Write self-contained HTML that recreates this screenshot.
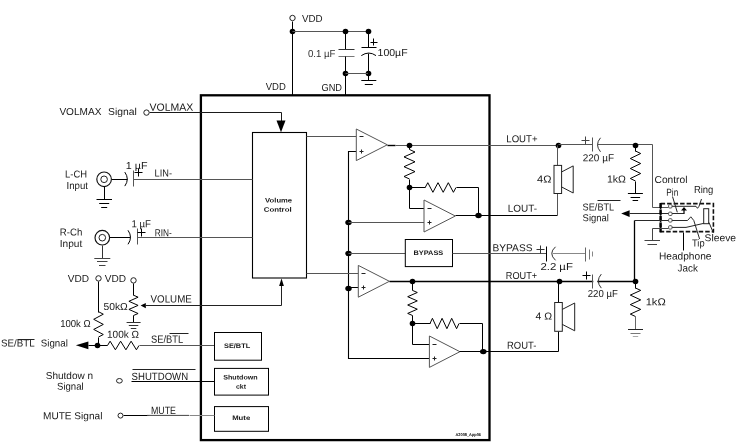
<!DOCTYPE html>
<html><head><meta charset="utf-8"><title>Audio amplifier application circuit</title>
<style>
html,body{margin:0;padding:0;background:#fff;}
body{width:737px;height:447px;overflow:hidden;}
svg{display:block;font-family:"Liberation Sans",sans-serif;will-change:transform;text-rendering:geometricPrecision;}
</style></head>
<body>
<svg width="737" height="447" viewBox="0 0 737 447">
<rect width="737" height="447" fill="#fff"/>
<rect x="200.9" y="95.3" width="288.6" height="344.8" fill="none" stroke="#000" stroke-width="2.3"/>
<rect x="252.5" y="132.5" width="54" height="145.5" fill="none" stroke="#000" stroke-width="1.1"/>
<text x="265.1" y="202.6" font-size="6.6" fill="#181818" textLength="27" lengthAdjust="spacingAndGlyphs" font-weight="bold"  transform="rotate(0.05 265.1 202.6)">Volume</text>
<text x="263.8" y="211.8" font-size="6.6" fill="#181818" textLength="27.8" lengthAdjust="spacingAndGlyphs" font-weight="bold"  transform="rotate(0.05 263.8 211.8)">Control</text>
<path d="M292.5,21.5 L292.5,95.5" stroke="#000" stroke-width="1" fill="none" />
<circle cx="292.5" cy="18.0" r="2.7" fill="#fff" stroke="#222" stroke-width="1.0"/>
<circle cx="292.5" cy="31.5" r="2.8" fill="#000"/>
<path d="M292.5,31.5 L368.5,31.5" stroke="#555" stroke-width="1" fill="none" />
<circle cx="345.5" cy="31.5" r="2.8" fill="#000"/>
<circle cx="368.5" cy="31.5" r="2.8" fill="#000"/>
<path d="M345.5,31.5 L345.5,49.5" stroke="#000" stroke-width="1" fill="none" />
<path d="M338.5,49.5 L354.5,49.5" stroke="#333" stroke-width="1" fill="none" />
<path d="M338.5,56.5 L354.5,56.5" stroke="#777" stroke-width="1" fill="none" />
<path d="M345.5,56.5 L345.5,95.5" stroke="#000" stroke-width="1" fill="none" />
<circle cx="345.5" cy="73.5" r="2.8" fill="#000"/>
<circle cx="368.5" cy="73.5" r="2.8" fill="#000"/>
<path d="M345.5,73.5 L368.5,73.5" stroke="#555" stroke-width="1" fill="none" />
<path d="M368.5,31.5 L368.5,47.5" stroke="#000" stroke-width="1" fill="none" />
<path d="M361.5,47.5 L376.5,47.5" stroke="#000" stroke-width="1" fill="none" />
<path d="M361.3,55.6 Q368.8,50.5 376,55.6" stroke="#000" stroke-width="1" fill="none"/>
<path d="M368.5,53.5 L368.5,80.5" stroke="#000" stroke-width="1" fill="none" />
<path d="M361.3,80.5 L376.3,80.5" stroke="#000" stroke-width="1" fill="none" />
<path d="M364.8,84.5 L372.8,84.5" stroke="#000" stroke-width="1" fill="none" />
<path d="M370.5,42.5 L377.5,42.5" stroke="#000" stroke-width="1" fill="none" />
<path d="M373.5,38.5 L373.5,45.5" stroke="#000" stroke-width="1" fill="none" />
<text x="302" y="21.9" font-size="10.1" fill="#181818" textLength="20.6" lengthAdjust="spacingAndGlyphs"  transform="rotate(0.05 302 21.9)">VDD</text>
<text x="308" y="57.1" font-size="10.1" fill="#333" textLength="27.5" lengthAdjust="spacingAndGlyphs"  transform="rotate(0.05 308 57.1)">0.1 µF</text>
<text x="377.6" y="56.1" font-size="10.1" fill="#181818" textLength="30" lengthAdjust="spacingAndGlyphs"  transform="rotate(0.05 377.6 56.1)">100µF</text>
<text x="265.8" y="90.0" font-size="10.1" fill="#181818" textLength="20" lengthAdjust="spacingAndGlyphs"  transform="rotate(0.05 265.8 90.0)">VDD</text>
<text x="321.5" y="91.1" font-size="10.1" fill="#181818" textLength="20.5" lengthAdjust="spacingAndGlyphs"  transform="rotate(0.05 321.5 91.1)">GND</text>
<path d="M149.5,112.5 L281.5,112.5 L281.5,122.5" stroke="#1a1a1a" stroke-width="1" fill="none" />
<path d="M276.5,120.5 L285.5,120.5 L281,132.2 Z" fill="#000"/>
<circle cx="146.5" cy="112.6" r="2.7" fill="#fff" stroke="#222" stroke-width="1.0"/>
<text x="59.4" y="115.0" font-size="10.1" fill="#181818" textLength="42" lengthAdjust="spacingAndGlyphs"  transform="rotate(0.05 59.4 115.0)">VOLMAX</text>
<text x="108.1" y="115.0" font-size="10.1" fill="#181818" textLength="28.8" lengthAdjust="spacingAndGlyphs"  transform="rotate(0.05 108.1 115.0)">Signal</text>
<text x="149.6" y="110.7" font-size="10.5" fill="#181818" textLength="43.7" lengthAdjust="spacingAndGlyphs"  transform="rotate(0.05 149.6 110.7)">VOLMAX</text>
<path d="M111.5,179.5 L127.5,179.5" stroke="#000" stroke-width="1" fill="none" />
<path d="M133.5,179.5 L252.5,179.5" stroke="#555" stroke-width="1" fill="none" />
<circle cx="104.1" cy="179.3" r="7.3" fill="#fff" stroke="#111" stroke-width="1.15"/>
<circle cx="104.1" cy="179.3" r="3.3" fill="#fff" stroke="#222" stroke-width="1"/>
<path d="M124.8,172.1 Q129.8,179.1 124.8,186.1" stroke="#000" stroke-width="1" fill="none"/>
<path d="M133.5,170.5 L133.5,186.5" stroke="#555" stroke-width="1" fill="none" />
<path d="M134.5,172.5 L142.5,172.5" stroke="#000" stroke-width="1" fill="none" />
<path d="M138.5,168.5 L138.5,176.5" stroke="#000" stroke-width="1" fill="none" />
<path d="M104.5,186.5 L104.5,199.5" stroke="#000" stroke-width="1" fill="none" />
<path d="M96.5,199.5 L112.0,199.5" stroke="#000" stroke-width="1" fill="none" />
<path d="M99.2,203.5 L109.2,203.5" stroke="#000" stroke-width="1" fill="none" />
<path d="M101.2,207.5 L107.2,207.5" stroke="#000" stroke-width="1" fill="none" />
<text x="65" y="177.5" font-size="10.1" fill="#181818" textLength="22" lengthAdjust="spacingAndGlyphs"  transform="rotate(0.05 65 177.5)">L-CH</text>
<text x="66.5" y="189.1" font-size="10.1" fill="#181818" textLength="21.5" lengthAdjust="spacingAndGlyphs"  transform="rotate(0.05 66.5 189.1)">Input</text>
<text x="125.8" y="169.1" font-size="10.1" fill="#181818" textLength="21.7" lengthAdjust="spacingAndGlyphs"  transform="rotate(0.05 125.8 169.1)">1 µF</text>
<text x="154.6" y="176.5" font-size="10.1" fill="#181818" textLength="17.4" lengthAdjust="spacingAndGlyphs"  transform="rotate(0.05 154.6 176.5)">LIN-</text>
<path d="M109.5,237.5 L130.5,237.5" stroke="#000" stroke-width="1" fill="none" />
<path d="M137.5,237.5 L252.5,237.5" stroke="#555" stroke-width="1" fill="none" />
<circle cx="102.3" cy="237.7" r="7.3" fill="#fff" stroke="#111" stroke-width="1.15"/>
<circle cx="102.3" cy="237.7" r="3.3" fill="#fff" stroke="#222" stroke-width="1"/>
<path d="M128.0,230.3 Q133.0,237.3 128.0,244.3" stroke="#000" stroke-width="1" fill="none"/>
<path d="M137.5,228.5 L137.5,244.5" stroke="#555" stroke-width="1" fill="none" />
<path d="M137.5,232.5 L145.5,232.5" stroke="#000" stroke-width="1" fill="none" />
<path d="M141.5,228.5 L141.5,236.5" stroke="#000" stroke-width="1" fill="none" />
<path d="M102.5,245.5 L102.5,258.5" stroke="#333" stroke-width="1" fill="none" />
<path d="M94.3,258.5 L110.3,258.5" stroke="#444" stroke-width="1" fill="none" />
<path d="M97.0,261.5 L107.5,261.5" stroke="#444" stroke-width="1" fill="none" />
<path d="M99.0,265.5 L105.5,265.5" stroke="#444" stroke-width="1" fill="none" />
<text x="59.8" y="235.4" font-size="10.1" fill="#181818" textLength="22.5" lengthAdjust="spacingAndGlyphs"  transform="rotate(0.05 59.8 235.4)">R-Ch</text>
<text x="59.8" y="247.0" font-size="10.1" fill="#181818" textLength="22.5" lengthAdjust="spacingAndGlyphs"  transform="rotate(0.05 59.8 247.0)">Input</text>
<text x="131.5" y="227.2" font-size="10.1" fill="#181818" textLength="19.5" lengthAdjust="spacingAndGlyphs"  transform="rotate(0.05 131.5 227.2)">1 µF</text>
<text x="154.7" y="236.2" font-size="10.1" fill="#181818" textLength="17" lengthAdjust="spacingAndGlyphs"  transform="rotate(0.05 154.7 236.2)">RIN-</text>
<text x="67.7" y="281.9" font-size="10.1" fill="#181818" textLength="21.3" lengthAdjust="spacingAndGlyphs"  transform="rotate(0.05 67.7 281.9)">VDD</text>
<text x="104.8" y="281.9" font-size="10.1" fill="#181818" textLength="21.3" lengthAdjust="spacingAndGlyphs"  transform="rotate(0.05 104.8 281.9)">VDD</text>
<circle cx="98.5" cy="278.4" r="2.7" fill="#fff" stroke="#222" stroke-width="1.0"/>
<circle cx="133.5" cy="280.4" r="2.7" fill="#fff" stroke="#222" stroke-width="1.0"/>
<path d="M98.5,281.5 L98.5,312.5" stroke="#000" stroke-width="1" fill="none" />
<path d="M98.5,311.7 L103.3,314.2 L93.7,319.3 L103.3,324.4 L93.7,329.4 L103.3,334.5 L98.5,337.0" stroke="#000" stroke-width="1" fill="none" stroke-linejoin="miter"/>
<path d="M98.5,337.5 L98.5,345.5" stroke="#000" stroke-width="1" fill="none" />
<path d="M133.5,283.5 L133.5,295.5" stroke="#000" stroke-width="1" fill="none" />
<path d="M133.5,295.2 L138.1,297.2 L128.9,301.3 L138.1,305.4 L128.9,309.4 L138.1,313.5 L133.5,315.5" stroke="#000" stroke-width="1" fill="none" stroke-linejoin="miter"/>
<path d="M133.5,315.5 L133.5,322.5" stroke="#000" stroke-width="1" fill="none" />
<path d="M126.6,322.5 L140.6,322.5" stroke="#333" stroke-width="1" fill="none" />
<path d="M128.8,325.5 L138.3,325.5" stroke="#333" stroke-width="1" fill="none" />
<path d="M130.8,328.5 L136.3,328.5" stroke="#333" stroke-width="1" fill="none" />
<text x="60.2" y="327.1" font-size="10.1" fill="#181818" textLength="30.5" lengthAdjust="spacingAndGlyphs"  transform="rotate(0.05 60.2 327.1)">100k Ω</text>
<text x="103.5" y="310.0" font-size="10.1" fill="#181818" textLength="24.3" lengthAdjust="spacingAndGlyphs"  transform="rotate(0.05 103.5 310.0)">50kΩ</text>
<path d="M140.6,305.6 L145.8,302.9 L145.8,308.3 Z" fill="#000"/>
<path d="M145.5,305.5 L281.5,305.5 L281.5,285.5" stroke="#222" stroke-width="1" fill="none" />
<path d="M281.5,278.6 L279.1,285.9 L283.9,285.9 Z" fill="#000"/>
<text x="150.6" y="302.6" font-size="10.5" fill="#181818" textLength="41.2" lengthAdjust="spacingAndGlyphs"  transform="rotate(0.05 150.6 302.6)">VOLUME</text>
<text x="107" y="337.8" font-size="10.1" fill="#181818" textLength="32" lengthAdjust="spacingAndGlyphs"  transform="rotate(0.05 107 337.8)">100k Ω</text>
<path d="M75.8,345.3 L88.4,341.4 L88.4,349.2 Z" fill="#000"/>
<path d="M88.5,345.5 L107.5,345.5" stroke="#000" stroke-width="1" fill="none" />
<circle cx="97.5" cy="345.5" r="2.8" fill="#000"/>
<path d="M107.5,345.5 L110.1,341.2 L115.4,349.8 L120.6,341.2 L125.9,349.8 L131.1,341.2 L136.4,349.8 L139.0,345.5" stroke="#000" stroke-width="1" fill="none" stroke-linejoin="miter"/>
<path d="M139.5,345.5 L214.5,345.5" stroke="#555" stroke-width="1" fill="none" />
<text x="1" y="346.6" font-size="10.1" fill="#181818" textLength="33.7" lengthAdjust="spacingAndGlyphs"  transform="rotate(0.05 1 346.6)">SE/BTL</text>
<text x="40.8" y="346.6" font-size="10.1" fill="#181818" textLength="27" lengthAdjust="spacingAndGlyphs"  transform="rotate(0.05 40.8 346.6)">Signal</text>
<path d="M17.5,339.5 L34.5,339.5" stroke="#222" stroke-width="1" fill="none" />
<text x="151" y="342.8" font-size="10.5" fill="#181818" textLength="32.2" lengthAdjust="spacingAndGlyphs"  transform="rotate(0.05 151 342.8)">SE/BTL</text>
<path d="M169.5,333.5 L188.5,333.5" stroke="#222" stroke-width="1" fill="none" />
<rect x="214.5" y="332.5" width="47" height="27.7" fill="#fff" stroke="#000" stroke-width="1"/>
<rect x="214.5" y="368.4" width="54" height="26.7" fill="#fff" stroke="#000" stroke-width="1"/>
<rect x="214.5" y="406.6" width="54" height="24.7" fill="#fff" stroke="#000" stroke-width="1"/>
<text x="224" y="348.0" font-size="6.6" fill="#181818" textLength="26.2" lengthAdjust="spacingAndGlyphs" font-weight="bold"  transform="rotate(0.05 224 348.0)">SE/BTL</text>
<text x="223.2" y="379.5" font-size="6.6" fill="#181818" textLength="34.5" lengthAdjust="spacingAndGlyphs" font-weight="bold"  transform="rotate(0.05 223.2 379.5)">Shutdown</text>
<text x="236" y="388.7" font-size="6.6" fill="#181818" textLength="10" lengthAdjust="spacingAndGlyphs" font-weight="bold"  transform="rotate(0.05 236 388.7)">ckt</text>
<text x="232.2" y="419.9" font-size="6.6" fill="#181818" textLength="18" lengthAdjust="spacingAndGlyphs" font-weight="bold"  transform="rotate(0.05 232.2 419.9)">Mute</text>
<ellipse cx="119.4" cy="380.8" rx="2.9" ry="2.3" fill="#fff" stroke="#222" stroke-width="1"/>
<path d="M131.5,381.5 L214.5,381.5" stroke="#000" stroke-width="1" fill="none" />
<text x="131.6" y="380.0" font-size="10.5" fill="#181818" textLength="56.5" lengthAdjust="spacingAndGlyphs"  transform="rotate(0.05 131.6 380.0)">SHUTDOWN</text>
<path d="M132.5,369.5 L195.5,369.5" stroke="#222" stroke-width="1" fill="none" />
<text x="45.7" y="378.9" font-size="10.1" fill="#181818" textLength="47.4" lengthAdjust="spacingAndGlyphs"  transform="rotate(0.05 45.7 378.9)">Shutdow n</text>
<text x="57" y="389.8" font-size="10.1" fill="#181818" textLength="26.6" lengthAdjust="spacingAndGlyphs"  transform="rotate(0.05 57 389.8)">Signal</text>
<path d="M123.5,415.5 L148.5,415.5" stroke="#000" stroke-width="1" fill="none" />
<path d="M147.0,415.4 L189.0,415.4" stroke="#444" stroke-width="1" fill="none" />
<path d="M189.5,415.5 L214.5,415.5" stroke="#888" stroke-width="1" fill="none" />
<circle cx="120.5" cy="415.6" r="2.5" fill="#fff" stroke="#222" stroke-width="1.0"/>
<text x="43" y="419.2" font-size="10.1" fill="#181818" textLength="59.4" lengthAdjust="spacingAndGlyphs"  transform="rotate(0.05 43 419.2)">MUTE  Signal</text>
<text x="151" y="413.9" font-size="10.5" fill="#181818" textLength="25" lengthAdjust="spacingAndGlyphs"  transform="rotate(0.05 151 413.9)">MUTE</text>
<path d="M356.5,151.5 L348.5,151.5 L348.5,358.5 L429.5,358.5" stroke="#000" stroke-width="1.1" fill="none" />
<ellipse cx="348.5" cy="222.5" rx="3.2" ry="2.7" fill="#000"/>
<ellipse cx="348.5" cy="253.5" rx="3.2" ry="2.7" fill="#000"/>
<ellipse cx="348.5" cy="288.5" rx="3.2" ry="2.7" fill="#000"/>
<path d="M348.5,222.5 L424.5,222.5" stroke="#555" stroke-width="1" fill="none" />
<path d="M348.5,287.5 L358.5,287.5" stroke="#000" stroke-width="1" fill="none" />
<path d="M306.5,136.5 L356.5,136.5" stroke="#555" stroke-width="1" fill="none" />
<path d="M306.5,273.5 L358.5,273.5" stroke="#555" stroke-width="1" fill="none" />
<path d="M348.5,253.5 L405.5,253.5" stroke="#555" stroke-width="1" fill="none" />
<rect x="405.3" y="239.5" width="47.2" height="27.1" fill="#fff" stroke="#000" stroke-width="1"/>
<text x="413.5" y="255.1" font-size="6.6" fill="#181818" textLength="29.8" lengthAdjust="spacingAndGlyphs" font-weight="bold"  transform="rotate(0.05 413.5 255.1)">BYPASS</text>
<path d="M452.5,253.5 L546.5,253.5" stroke="#555" stroke-width="1" fill="none" />
<path d="M356.3,129 L387.3,144.8 L356.3,160.6 Z" stroke="#555" stroke-width="1" fill="#fff"/>
<path d="M359.5,136.5 L363.5,136.5" stroke="#222" stroke-width="1" fill="none" />
<path d="M359.5,151.5 L363.5,151.5" stroke="#222" stroke-width="1" fill="none" />
<path d="M361.5,149.5 L361.5,153.5" stroke="#222" stroke-width="1" fill="none" />
<path d="M387.5,145.5 L395.5,145.5" stroke="#000" stroke-width="1.4" fill="none" />
<path d="M395.5,145.5 L558.5,145.5" stroke="#555" stroke-width="1" fill="none" />
<circle cx="409.5" cy="145.5" r="2.8" fill="#000"/>
<path d="M409.5,145.5 L409.5,149.5" stroke="#000" stroke-width="1" fill="none" />
<path d="M409.5,149.5 L415.0,152.0 L404.0,156.9 L415.0,161.8 L404.0,166.7 L415.0,171.6 L404.0,176.5 L409.5,179.0" stroke="#000" stroke-width="1" fill="none" stroke-linejoin="miter"/>
<path d="M409.5,179.5 L409.5,208.5 L424.5,208.5" stroke="#000" stroke-width="1" fill="none" />
<circle cx="409.5" cy="187.5" r="2.8" fill="#000"/>
<path d="M409.5,187.5 L425.5,187.5" stroke="#000" stroke-width="1" fill="none" />
<path d="M425.2,187.5 L427.8,182.7 L432.9,192.3 L438.0,182.7 L443.2,192.3 L448.3,182.7 L453.4,192.3 L456.0,187.5" stroke="#000" stroke-width="1" fill="none" stroke-linejoin="miter"/>
<path d="M456.5,187.5 L478.5,187.5 L478.5,215.5" stroke="#000" stroke-width="1" fill="none" />
<path d="M424,200 L455.3,216.0 L424,232 Z" stroke="#555" stroke-width="1" fill="#fff"/>
<path d="M427.5,208.5 L431.5,208.5" stroke="#222" stroke-width="1" fill="none" />
<path d="M427.5,222.5 L431.5,222.5" stroke="#222" stroke-width="1" fill="none" />
<path d="M429.5,220.5 L429.5,224.5" stroke="#222" stroke-width="1" fill="none" />
<path d="M455.5,215.5 L557.5,215.5" stroke="#000" stroke-width="1" fill="none" />
<ellipse cx="478.5" cy="215.5" rx="3.2" ry="2.7" fill="#000"/>
<path d="M358.3,265.4 L389.4,281.29999999999995 L358.3,297.2 Z" stroke="#555" stroke-width="1" fill="#fff"/>
<path d="M361.5,273.5 L365.5,273.5" stroke="#222" stroke-width="1" fill="none" />
<path d="M361.5,287.5 L365.5,287.5" stroke="#222" stroke-width="1" fill="none" />
<path d="M363.5,285.5 L363.5,289.5" stroke="#222" stroke-width="1" fill="none" />
<path d="M389.5,281.5 L635.5,281.5" stroke="#000" stroke-width="1.3" fill="none" />
<circle cx="412.5" cy="281.5" r="2.8" fill="#000"/>
<path d="M412.5,281.5 L412.5,290.5" stroke="#000" stroke-width="1" fill="none" />
<path d="M412.5,290.4 L417.3,292.5 L407.7,296.7 L417.3,300.9 L407.7,305.0 L417.3,309.2 L407.7,313.4 L412.5,315.5" stroke="#000" stroke-width="1" fill="none" stroke-linejoin="miter"/>
<path d="M412.5,315.5 L412.5,344.5 L429.5,344.5" stroke="#000" stroke-width="1" fill="none" />
<circle cx="412.5" cy="323.5" r="2.8" fill="#000"/>
<path d="M412.5,323.5 L430.5,323.5" stroke="#000" stroke-width="1" fill="none" />
<path d="M430.0,323.5 L432.4,318.3 L437.2,328.7 L442.1,318.3 L446.9,328.7 L451.7,318.3 L456.6,328.7 L459.0,323.5" stroke="#000" stroke-width="1" fill="none" stroke-linejoin="miter"/>
<path d="M459.5,323.5 L482.5,323.5 L482.5,351.5" stroke="#000" stroke-width="1" fill="none" />
<path d="M429.4,336 L459.9,351.7 L429.4,367.4 Z" stroke="#555" stroke-width="1" fill="#fff"/>
<path d="M432.5,344.5 L436.5,344.5" stroke="#222" stroke-width="1" fill="none" />
<path d="M432.5,358.5 L436.5,358.5" stroke="#222" stroke-width="1" fill="none" />
<path d="M434.5,356.5 L434.5,360.5" stroke="#222" stroke-width="1" fill="none" />
<path d="M459.5,351.5 L558.5,351.5" stroke="#000" stroke-width="1" fill="none" />
<ellipse cx="483.3" cy="351.6" rx="3.3" ry="2.6" fill="#000"/>
<text x="455.5" y="436.1" font-size="4.2" fill="#000" textLength="25.5" lengthAdjust="spacingAndGlyphs" font-weight="bold"  transform="rotate(0.05 455.5 436.1)">A2008_App06</text>
<text x="506.3" y="142.3" font-size="10.1" fill="#181818" textLength="31.2" lengthAdjust="spacingAndGlyphs"  transform="rotate(0.05 506.3 142.3)">LOUT+</text>
<circle cx="558.5" cy="145.5" r="2.8" fill="#000"/>
<path d="M558.5,144.5 L592.5,144.5" stroke="#555" stroke-width="1" fill="none" />
<path d="M592.5,137.5 L592.5,151.5" stroke="#555" stroke-width="1" fill="none" />
<path d="M600.5,137.8 Q594.5,144.8 600.5,151.8" stroke="#333" stroke-width="1" fill="none"/>
<path d="M597.5,144.5 L652.5,144.5 L652.5,207.5 L668.5,207.5" stroke="#555" stroke-width="1" fill="none" />
<path d="M581.5,140.5 L589.5,140.5" stroke="#444" stroke-width="1" fill="none" />
<path d="M585.5,136.5 L585.5,144.5" stroke="#444" stroke-width="1" fill="none" />
<text x="582.8" y="161.2" font-size="10.1" fill="#181818" textLength="31.2" lengthAdjust="spacingAndGlyphs"  transform="rotate(0.05 582.8 161.2)">220 µF</text>
<circle cx="635.5" cy="145.5" r="2.8" fill="#000"/>
<path d="M635.5,145.5 L635.5,151.5" stroke="#000" stroke-width="1" fill="none" />
<path d="M635.5,151.0 L640.7,153.5 L630.3,158.5 L640.7,163.5 L630.3,168.5 L640.7,173.5 L630.3,178.5 L635.5,181.0" stroke="#000" stroke-width="1" fill="none" stroke-linejoin="miter"/>
<path d="M635.5,181.5 L635.5,193.5" stroke="#000" stroke-width="1" fill="none" />
<path d="M627.9,193.5 L642.9,193.5" stroke="#000" stroke-width="1" fill="none" />
<path d="M630.6,197.5 L640.1,197.5" stroke="#000" stroke-width="1" fill="none" />
<path d="M632.6,200.5 L638.1,200.5" stroke="#000" stroke-width="1" fill="none" />
<text x="607" y="182.5" font-size="10.1" fill="#181818" textLength="19" lengthAdjust="spacingAndGlyphs"  transform="rotate(0.05 607 182.5)">1kΩ</text>
<path d="M557.5,145.5 L557.5,165.5" stroke="#555" stroke-width="1" fill="none" />
<path d="M557.5,193.5 L557.5,215.5" stroke="#555" stroke-width="1" fill="none" />
<rect x="554.0" y="165.4" width="7.6" height="28.099999999999994" fill="#fff" stroke="#222" stroke-width="1"/>
<path d="M561.5999999999999,171.95 L573.2,165.9 L573.2,193.0 L561.5999999999999,186.95" fill="none" stroke="#222" stroke-width="1"/>
<text x="537" y="182.5" font-size="10.1" fill="#181818" textLength="14.4" lengthAdjust="spacingAndGlyphs"  transform="rotate(0.05 537 182.5)">4Ω</text>
<text x="507.8" y="211.8" font-size="10.1" fill="#181818" textLength="29.3" lengthAdjust="spacingAndGlyphs"  transform="rotate(0.05 507.8 211.8)">LOUT-</text>
<text x="582.6" y="210.5" font-size="10.1" fill="#181818" textLength="31.6" lengthAdjust="spacingAndGlyphs"  transform="rotate(0.05 582.6 210.5)">SE/BTL</text>
<path d="M597.5,200.5 L620.5,200.5" stroke="#222" stroke-width="1" fill="none" />
<text x="582.6" y="221.3" font-size="10.1" fill="#181818" textLength="26.3" lengthAdjust="spacingAndGlyphs"  transform="rotate(0.05 582.6 221.3)">Signal</text>
<path d="M621.2,213.6 L629.6,210.2 L629.6,217 Z" fill="#000"/>
<path d="M629.5,213.5 L684.5,213.5" stroke="#2a2a2a" stroke-width="1" fill="none" />
<text x="654.5" y="183.0" font-size="10.1" fill="#181818" textLength="33" lengthAdjust="spacingAndGlyphs"  transform="rotate(0.05 654.5 183.0)">Control</text>
<text x="666.3" y="195.8" font-size="10.1" fill="#181818" textLength="12" lengthAdjust="spacingAndGlyphs"  transform="rotate(0.05 666.3 195.8)">Pin</text>
<text x="693.9" y="193.0" font-size="10.1" fill="#181818" textLength="19.5" lengthAdjust="spacingAndGlyphs"  transform="rotate(0.05 693.9 193.0)">Ring</text>
<rect x="660.6" y="203.6" width="52.8" height="28" fill="none" stroke="#111" stroke-width="1.6" stroke-dasharray="4.5,2"/>
<path d="M660.6,203.0 L660.6,232.3" stroke="#000" stroke-width="2.4" fill="none" stroke-dasharray="5,1.5"/>
<path d="M672.0,206.3 L696.0,206.3 L697.5,208.3 L699.0,206.3 L701.5,199.0" stroke="#222" stroke-width="1" fill="none" />
<path d="M684,207 L681,210.6 L687,210.6 Z" fill="#000"/>
<path d="M684.0,210.0 L684.0,213.6" stroke="#000" stroke-width="1.2" fill="none" />
<path d="M672.5,196.5 L677.3,212.3" stroke="#222" stroke-width="1" fill="none" />
<path d="M634.6,220.5 L687.5,220.5 L690.8,216.8 L693.8,220.5 L699.6,239.0" stroke="#2a2a2a" stroke-width="1" fill="none" />
<path d="M634.5,220.5 L634.5,281.5" stroke="#000" stroke-width="1.3" fill="none" />
<path d="M668.5,228.5 L652.5,228.5 L652.5,240.5" stroke="#444" stroke-width="1" fill="none" />
<path d="M672.0,227.4 L686.0,227.4 L704.0,223.3" stroke="#222" stroke-width="1" fill="none" />
<path d="M644.5,240.5 L660.0,240.5" stroke="#444" stroke-width="1" fill="none" />
<path d="M647.5,244.5 L657.0,244.5" stroke="#444" stroke-width="1" fill="none" />
<rect x="703.7" y="208.7" width="5" height="15" fill="#fff" stroke="#222" stroke-width="1"/>
<path d="M709.0,222.5 L713.4,233.0" stroke="#222" stroke-width="1" fill="none" />
<rect x="668.6" y="204.60000000000002" width="3.4" height="3.4" rx="1" fill="#fff" stroke="#444" stroke-width="0.9"/>
<rect x="668.6" y="212.10000000000002" width="3.4" height="3.4" rx="1" fill="#fff" stroke="#444" stroke-width="0.9"/>
<rect x="668.6" y="218.70000000000002" width="3.4" height="3.4" rx="1" fill="#fff" stroke="#444" stroke-width="0.9"/>
<rect x="668.6" y="225.70000000000002" width="3.4" height="3.4" rx="1" fill="#fff" stroke="#444" stroke-width="0.9"/>
<text x="704.6" y="241.3" font-size="10.1" fill="#181818" textLength="31.5" lengthAdjust="spacingAndGlyphs"  transform="rotate(0.05 704.6 241.3)">Sleeve</text>
<text x="692" y="246.6" font-size="10.1" fill="#181818" textLength="12.6" lengthAdjust="spacingAndGlyphs"  transform="rotate(0.05 692 246.6)">Tip</text>
<path d="M683.5,232.5 L683.5,250.5" stroke="#000" stroke-width="1" fill="none" />
<text x="659" y="259.4" font-size="10.1" fill="#181818" textLength="52.4" lengthAdjust="spacingAndGlyphs"  transform="rotate(0.05 659 259.4)">Headphone</text>
<text x="677.6" y="271.4" font-size="10.1" fill="#181818" textLength="20.3" lengthAdjust="spacingAndGlyphs"  transform="rotate(0.05 677.6 271.4)">Jack</text>
<text x="492.5" y="251.3" font-size="10.1" fill="#181818" textLength="40" lengthAdjust="spacingAndGlyphs"  transform="rotate(0.05 492.5 251.3)">BYPASS</text>
<path d="M536.5,249.5 L544.5,249.5" stroke="#333" stroke-width="1" fill="none" />
<path d="M540.5,245.5 L540.5,253.5" stroke="#333" stroke-width="1" fill="none" />
<path d="M546.5,246.5 L546.5,261.5" stroke="#000" stroke-width="1" fill="none" />
<path d="M555.5,246.8 Q548,253.4 555.5,260.3" stroke="#333" stroke-width="1" fill="none"/>
<path d="M552.5,253.5 L585.5,253.5" stroke="#888" stroke-width="1" fill="none" />
<path d="M585.5,247.5 L585.5,261.5" stroke="#666" stroke-width="1" fill="none" />
<path d="M589.5,249.5 L589.5,259.5" stroke="#777" stroke-width="1" fill="none" />
<path d="M592.5,251.5 L592.5,256.5" stroke="#888" stroke-width="1" fill="none" />
<text x="540.4" y="270.0" font-size="10.1" fill="#181818" textLength="32.5" lengthAdjust="spacingAndGlyphs"  transform="rotate(0.05 540.4 270.0)">2.2  µF</text>
<text x="505.8" y="278.9" font-size="10.1" fill="#181818" textLength="31.3" lengthAdjust="spacingAndGlyphs"  transform="rotate(0.05 505.8 278.9)">ROUT+</text>
<circle cx="559.5" cy="281.5" r="2.8" fill="#000"/>
<circle cx="635.5" cy="281.5" r="2.8" fill="#000"/>
<rect x="593.3" y="278" width="4" height="6" fill="#fff"/>
<path d="M592.5,274.5 L592.5,288.5" stroke="#555" stroke-width="1" fill="none" />
<path d="M601.3,274.1 Q595.3,281.1 601.3,288.1" stroke="#333" stroke-width="1" fill="none"/>
<path d="M582.5,275.5 L590.5,275.5" stroke="#000" stroke-width="1" fill="none" />
<path d="M586.5,271.5 L586.5,279.5" stroke="#000" stroke-width="1" fill="none" />
<text x="587.8" y="297.0" font-size="10.1" fill="#181818" textLength="30" lengthAdjust="spacingAndGlyphs"  transform="rotate(0.05 587.8 297.0)">220 µF</text>
<path d="M635.5,281.5 L635.5,288.5" stroke="#000" stroke-width="1" fill="none" />
<path d="M635.5,288.0 L640.7,290.4 L630.3,295.1 L640.7,299.9 L630.3,304.6 L640.7,309.4 L630.3,314.1 L635.5,316.5" stroke="#000" stroke-width="1" fill="none" stroke-linejoin="miter"/>
<path d="M635.5,316.5 L635.5,329.5" stroke="#666" stroke-width="1" fill="none" />
<path d="M628.0,329.5 L643.0,329.5" stroke="#222" stroke-width="1" fill="none" />
<path d="M630.5,333.5 L640.5,333.5" stroke="#777" stroke-width="1" fill="none" />
<path d="M632.8,336.5 L638.2,336.5" stroke="#aaa" stroke-width="1" fill="none" />
<text x="645.7" y="305.3" font-size="10.1" fill="#181818" textLength="20" lengthAdjust="spacingAndGlyphs"  transform="rotate(0.05 645.7 305.3)">1kΩ</text>
<path d="M558.5,281.5 L558.5,302.5" stroke="#000" stroke-width="1" fill="none" />
<path d="M558.5,331.5 L558.5,351.5" stroke="#000" stroke-width="1" fill="none" />
<rect x="554.7" y="302.5" width="7.6" height="28.80000000000001" fill="#fff" stroke="#222" stroke-width="1"/>
<path d="M562.3,309.4 L574.7,303.0 L574.7,330.8 L562.3,324.4" fill="none" stroke="#222" stroke-width="1"/>
<text x="535.6" y="319.6" font-size="10.1" fill="#181818" textLength="16.6" lengthAdjust="spacingAndGlyphs"  transform="rotate(0.05 535.6 319.6)">4 Ω</text>
<text x="507" y="348.7" font-size="10.1" fill="#181818" textLength="29.4" lengthAdjust="spacingAndGlyphs"  transform="rotate(0.05 507 348.7)">ROUT-</text>
</svg>
</body></html>
